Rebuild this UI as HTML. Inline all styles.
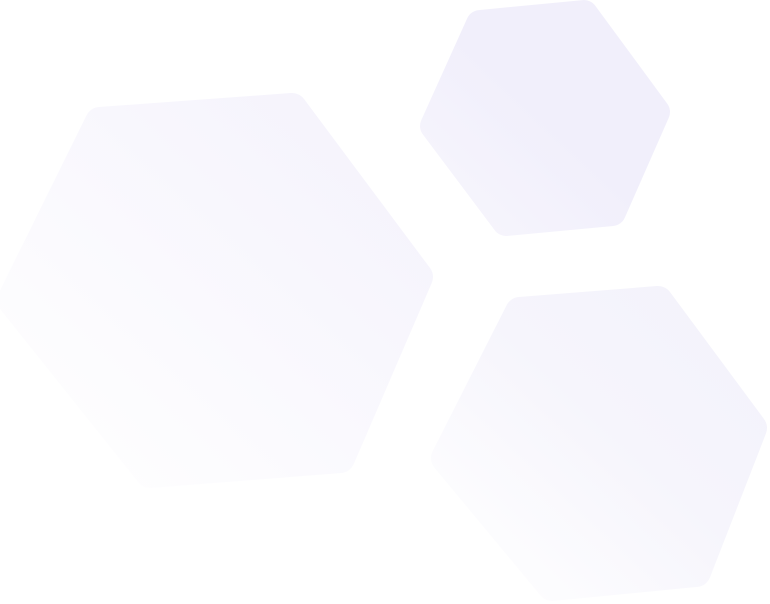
<!DOCTYPE html>
<html>
<head>
<meta charset="utf-8">
<style>
  html,body{margin:0;padding:0;background:#ffffff;}
  svg{display:block;}
</style>
</head>
<body>
<svg width="770" height="604" viewBox="0 0 770 604">
  <defs>
    <linearGradient id="gLarge" x1="1" y1="0" x2="0" y2="1">
      <stop offset="0" stop-color="#f4f2fc"/>
      <stop offset="1" stop-color="#ffffff"/>
    </linearGradient>
    <linearGradient id="gTop" x1="1" y1="0" x2="0" y2="1">
      <stop offset="0" stop-color="#f1effb"/>
      <stop offset="0.5" stop-color="#f1effb"/>
      <stop offset="1" stop-color="#f7f6fd"/>
    </linearGradient>
    <linearGradient id="gBottom" x1="1" y1="0" x2="0" y2="1">
      <stop offset="0" stop-color="#f3f2fb"/>
      <stop offset="0.45" stop-color="#f6f5fc"/>
      <stop offset="1" stop-color="#ffffff"/>
    </linearGradient>
  </defs>
  <polygon
    points="100,122 292,108 418,277 340,458 150,473 12,300"
    fill="url(#gLarge)" stroke="url(#gLarge)" stroke-width="30" stroke-linejoin="round"/>
  <polygon
    points="480,24 584,14 656,112 612,212 506,222 434,126"
    fill="url(#gTop)" stroke="url(#gTop)" stroke-width="28" stroke-linejoin="round"/>
  <polygon
    points="520,312 658,301 752,428 696,572 552,586 446,458"
    fill="url(#gBottom)" stroke="url(#gBottom)" stroke-width="30" stroke-linejoin="round"/>
</svg>
</body>
</html>
